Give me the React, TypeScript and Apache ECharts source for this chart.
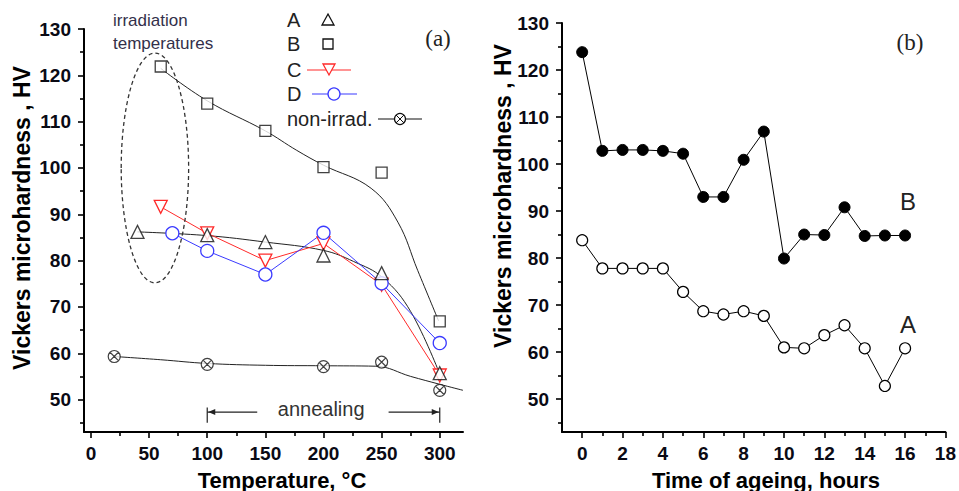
import React, { useEffect, useRef } from "react";
import * as echarts from "echarts";

// ---------- Panel (a): hardness vs annealing temperature ----------
const tempA = [40, 100, 150, 200, 250, 300];
const hvA = [86.2, 85.5, 84, 81.1, 77.3, 55.7];
const fitA: [number, number][] = [[40, 86.2], [100, 85.4], [150, 84], [200, 82.2], [226, 79.8], [251, 76.3], [275, 69], [300, 55.5]];

const tempB = [60, 100, 150, 200, 250, 300];
const hvB = [121.9, 113.9, 108, 100.2, 99, 66.9];
const fitB: [number, number][] = [[60, 121.5], [100, 114.5], [150, 108], [177, 103.8], [200, 100.6], [241, 95.6], [264, 88.3], [281, 77.9], [299, 67]];

const tempC = [60, 100, 150, 200, 250, 300];
const hvC = [91.6, 85.9, 80, 83.7, 74.8, 55.2];

const tempD = [70, 100, 150, 200, 250, 300];
const hvD = [85.9, 82.1, 77, 86, 75.1, 62.2];

const tempN = [20, 100, 200, 250, 300];
const hvN = [59.3, 57.6, 57.1, 58.1, 52];
const fitN: [number, number][] = [[20, 59.3], [60, 58.6], [100, 57.8], [150, 57.4], [200, 57.3], [245, 57.2], [275, 55], [300, 53.3], [320, 52]];

// ---------- Panel (b): hardness vs ageing time ----------
const hours = [0, 1, 2, 3, 4, 5, 6, 7, 8, 9, 10, 11, 12, 13, 14, 15, 16];
const hvAgeB = [123.8, 102.8, 103, 103, 102.8, 102.2, 93, 93, 100.9, 106.9, 79.9, 85, 84.9, 90.8, 84.7, 84.8, 84.8];
const hvAgeA = [83.8, 77.8, 77.8, 77.8, 77.8, 72.8, 68.7, 68, 68.7, 67.7, 61, 60.8, 63.6, 65.7, 60.8, 52.8, 60.8];

// ---------- ticks ----------
const yMajor = [50, 60, 70, 80, 90, 100, 110, 120, 130];
const yMinor = [45, 55, 65, 75, 85, 95, 105, 115, 125];
const xMajorA = [0, 50, 100, 150, 200, 250, 300];
const xMinorA = [25, 75, 125, 175, 225, 275];
const xMajorB = [0, 2, 4, 6, 8, 10, 12, 14, 16, 18];
const xMinorB = [1, 3, 5, 7, 9, 11, 13, 15, 17];

const FONT = "'Liberation Sans', Arial, Helvetica, sans-serif";
const SERIF = "'Liberation Serif', 'Times New Roman', serif";
const crossCircle = "path://M10,0A10,10 0 1,1 -10,0A10,10 0 1,1 10,0ZM-7,-7L7,7M7,-7L-7,7";

const zip = (xs: number[], ys: number[]) => xs.map((x, i) => [x, ys[i]]);

function mainAxis(gridIndex: number, min: number, max: number, major: number[], isX: boolean) {
  return {
    type: "value",
    gridIndex,
    position: isX ? "bottom" : "left",
    min,
    max,
    axisLine: { show: true, onZero: false, lineStyle: { color: "#000", width: 2 } },
    axisTick: { show: true, customValues: major, length: 6, inside: false, lineStyle: { color: "#000", width: 1.6 } },
    axisLabel: {
      show: true,
      customValues: major,
      margin: isX ? 12 : 13,
      color: "#0a0a14",
      fontSize: 19,
      fontWeight: "bold",
      fontFamily: FONT,
    },
    splitLine: { show: false },
  };
}
function minorAxis(gridIndex: number, min: number, max: number, minor: number[], isX: boolean) {
  return {
    type: "value",
    gridIndex,
    position: isX ? "bottom" : "left",
    min,
    max,
    axisLine: { show: false, onZero: false },
    axisTick: { show: true, customValues: minor, length: 4, inside: false, lineStyle: { color: "#000", width: 1.6 } },
    axisLabel: { show: false },
    splitLine: { show: false },
  };
}

export default function App() {
  const ref = useRef<HTMLDivElement>(null);
  useEffect(() => {
    if (!ref.current) return;
    const chart = echarts.init(ref.current, undefined, { renderer: "svg" });
    const thin = { width: 1 };
    chart.setOption({
      animation: false,
      backgroundColor: "#fff",
      grid: [
        { left: 84, top: 29, width: 379, height: 403 },
        { left: 562, top: 23, width: 386, height: 409 },
      ],
      xAxis: [
        mainAxis(0, -6, 320, xMajorA, true),
        minorAxis(0, -6, 320, xMinorA, true),
        mainAxis(1, -1, 18, xMajorB, true),
        minorAxis(1, -1, 18, xMinorB, true),
      ],
      yAxis: [
        mainAxis(0, 43, 130, yMajor, false),
        minorAxis(0, 43, 130, yMinor, false),
        mainAxis(1, 43, 130, yMajor, false),
        minorAxis(1, 43, 130, yMinor, false),
      ],
      series: [
        { type: "line", xAxisIndex: 0, yAxisIndex: 0, data: fitA, smooth: 0.4, symbol: "none", lineStyle: { color: "#222", ...thin }, z: 2 },
        { type: "line", xAxisIndex: 0, yAxisIndex: 0, data: fitB, smooth: 0.4, symbol: "none", lineStyle: { color: "#222", ...thin }, z: 2 },
        { type: "line", xAxisIndex: 0, yAxisIndex: 0, data: fitN, smooth: 0.4, symbol: "none", lineStyle: { color: "#222", ...thin }, z: 2 },
        {
          type: "line", xAxisIndex: 0, yAxisIndex: 0, data: zip(tempC, hvC), symbol: "triangle", symbolRotate: 180, symbolSize: 13,
          lineStyle: { color: "#ff2a2a", ...thin }, itemStyle: { color: "#fff", borderColor: "#ff2a2a", borderWidth: 1.3 }, z: 3,
        },
        {
          type: "line", xAxisIndex: 0, yAxisIndex: 0, data: zip(tempD, hvD), symbol: "circle", symbolSize: 13,
          lineStyle: { color: "#3a3aff", ...thin }, itemStyle: { color: "#fff", borderColor: "#3a3aff", borderWidth: 1.3 }, z: 3,
        },
        {
          type: "scatter", xAxisIndex: 0, yAxisIndex: 0, data: zip(tempA, hvA), symbol: "triangle", symbolSize: 13,
          itemStyle: { color: "#fff", borderColor: "#111", borderWidth: 1.3 }, z: 4,
        },
        {
          type: "scatter", xAxisIndex: 0, yAxisIndex: 0, data: zip(tempB, hvB), symbol: "rect", symbolSize: 11,
          itemStyle: { color: "#fff", borderColor: "#111", borderWidth: 1.3 }, z: 4,
        },
        {
          type: "scatter", xAxisIndex: 0, yAxisIndex: 0, data: zip(tempN, hvN), symbol: crossCircle, symbolSize: 12,
          itemStyle: { color: "#fff", borderColor: "#111", borderWidth: 1.2 }, z: 4,
        },
        {
          type: "line", xAxisIndex: 2, yAxisIndex: 2, data: zip(hours, hvAgeB), symbol: "circle", symbolSize: 11,
          lineStyle: { color: "#000", ...thin }, itemStyle: { color: "#000", borderColor: "#000", borderWidth: 1 }, z: 3,
        },
        {
          type: "line", xAxisIndex: 2, yAxisIndex: 2, data: zip(hours, hvAgeA), symbol: "circle", symbolSize: 11,
          lineStyle: { color: "#000", ...thin }, itemStyle: { color: "#fff", borderColor: "#000", borderWidth: 1.2 }, z: 3,
        },
      ],
    });

    const px = (x: number, y: number) => chart.convertToPixel({ xAxisIndex: 0, yAxisIndex: 0 }, [x, y]) as number[];
    const [ecx, ecy] = px(55, 100);
    const [erx] = px(84, 100);
    const [, ery] = px(55, 124.8);
    const yAnn = 47.3;
    const [a100, ay] = px(100, yAnn);
    const [a143] = px(143, yAnn);
    const [a256] = px(256, yAnn);
    const [a300] = px(300, yAnn);
    const [aText] = px(198, yAnn);
    const [, barTop] = px(100, 48.3);
    const [, barBot] = px(100, 45);

    const txt = (text: string, x: number, y: number, size: number, extra: any = {}) => ({
      type: "text", x, y, z: 10,
      style: { text, fontSize: size, fontFamily: FONT, fill: "#222", align: "left", verticalAlign: "middle", ...extra },
    });
    const line = (x1: number, y1: number, x2: number, y2: number, stroke: string, w = 1.2, z = 10) => ({
      type: "line", z, shape: { x1, y1, x2, y2 }, style: { stroke, lineWidth: w },
    });

    chart.setOption({
      graphic: [
        // axis titles
        { type: "text", x: 22, y: 218, rotation: Math.PI / 2, z: 10, style: { text: "Vickers microhardness , HV", fontSize: 23, fontWeight: "bold", fontFamily: FONT, fill: "#000", align: "center", verticalAlign: "middle" } },
        { type: "text", x: 503, y: 196, rotation: Math.PI / 2, z: 10, style: { text: "Vickers microhardness , HV", fontSize: 23, fontWeight: "bold", fontFamily: FONT, fill: "#000", align: "center", verticalAlign: "middle" } },
        txt("Temperature, °C", 282, 480, 22, { fontWeight: "bold", fill: "#000", align: "center" }),
        txt("Time of ageing, hours", 766, 480, 22, { fontWeight: "bold", fill: "#000", align: "center" }),
        // panel labels
        txt("(a)", 438, 38, 23, { fontFamily: SERIF, align: "center" }),
        txt("(b)", 910, 42, 23, { fontFamily: SERIF, align: "center" }),
        txt("B", 908, 201, 24, { align: "center" }),
        txt("A", 908, 324, 24, { align: "center" }),
        // irradiation temperatures annotation
        txt("irradiation", 113, 20, 17, { fill: "#33304a" }),
        txt("temperatures", 113, 43, 17, { fill: "#33304a" }),
        { type: "ellipse", z: 9, shape: { cx: ecx, cy: ecy, rx: erx - ecx, ry: ecy - ery }, style: { fill: "none", stroke: "#333", lineWidth: 1.3, lineDash: [4, 3] } },
        // legend
        txt("A", 287, 20, 20),
        { type: "polygon", z: 10, shape: { points: [[328, 14], [334, 25], [322, 25]] }, style: { fill: "#fff", stroke: "#111", lineWidth: 1.3 } },
        txt("B", 287, 44, 20),
        { type: "rect", z: 10, shape: { x: 323, y: 39, width: 10, height: 10 }, style: { fill: "#fff", stroke: "#111", lineWidth: 1.3 } },
        txt("C", 287, 70, 20),
        line(307, 70, 351, 70, "#ff2a2a"),
        { type: "polygon", z: 11, shape: { points: [[323, 64], [335, 64], [329, 75]] }, style: { fill: "#fff", stroke: "#ff2a2a", lineWidth: 1.3 } },
        txt("D", 287, 94, 20),
        line(312, 94, 357, 94, "#3a3aff"),
        { type: "circle", z: 11, shape: { cx: 334, cy: 94, r: 6 }, style: { fill: "#fff", stroke: "#3a3aff", lineWidth: 1.3 } },
        txt("non-irrad.", 287, 119, 20),
        line(378, 119, 422, 119, "#111"),
        { type: "circle", z: 11, shape: { cx: 400, cy: 119, r: 5.5 }, style: { fill: "#fff", stroke: "#111", lineWidth: 1.2 } },
        line(396.1, 115.1, 403.9, 122.9, "#111", 1, 12),
        line(403.9, 115.1, 396.1, 122.9, "#111", 1, 12),
        // annealing range
        txt("annealing", aText, ay - 3, 20, { align: "center", fill: "#333" }),
        line(a100, ay, a143, ay, "#222"),
        line(a256, ay, a300, ay, "#222"),
        line(a100, barTop, a100, barBot, "#222"),
        line(a300, barTop, a300, barBot, "#222"),
        { type: "polygon", z: 10, shape: { points: [[a100 + 1, ay], [a100 + 8, ay - 3], [a100 + 8, ay + 3]] }, style: { fill: "#222" } },
        { type: "polygon", z: 10, shape: { points: [[a300 - 1, ay], [a300 - 8, ay - 3], [a300 - 8, ay + 3]] }, style: { fill: "#222" } },
      ],
    });

    return () => chart.dispose();
  }, []);
  return <div ref={ref} style={{ position: "fixed", left: 0, top: 0, width: 959, height: 491, background: "#fff" }} />;
}
